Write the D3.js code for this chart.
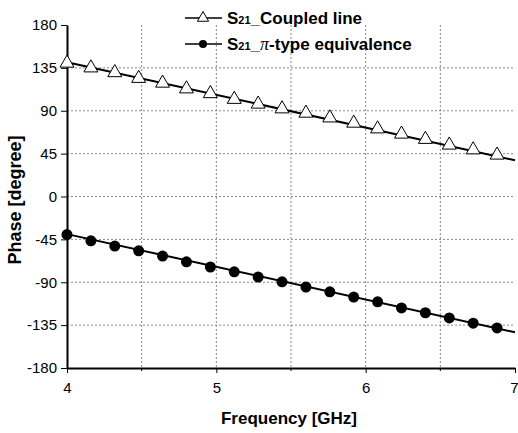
<!DOCTYPE html>
<html>
<head>
<meta charset="utf-8">
<script src="https://cdn.jsdelivr.net/npm/d3@7"></script>
<style>
  html, body { margin: 0; padding: 0; background: #fff; }
  svg { display: block; font-family: Arial, "Liberation Sans", sans-serif; }
</style>
</head>
<body>
<svg id="chart" width="518" height="433"></svg>
<script>
// marker frequencies (GHz)
const freqs = [4.00, 4.16, 4.32, 4.48, 4.64, 4.80, 4.96, 5.12, 5.28, 5.44,
               5.60, 5.76, 5.92, 6.08, 6.24, 6.40, 6.56, 6.72, 6.88];
// S21 phase, coupled line (deg)
const coupled = [140, 135, 130, 124, 119, 113, 108, 102, 97, 92,
                 87.5, 82.5, 77, 71, 65.5, 60, 54, 49, 43.5];
// S21 phase, pi-type equivalence (deg)
const piType = [-40, -46.5, -52, -57, -62.5, -68.5, -74, -79, -84.5, -89.5,
                -95, -100, -105.5, -110.5, -117, -122, -127.5, -133, -138];
// continuous traces
const lineFreqs = [4, 7];
const coupledLine = [141, 38];
const piLine = [-39.5, -142.5];

const xTicks = [4, 5, 6, 7];
const xGrid = [4.5, 5, 5.5, 6, 6.5];
const yTicks = [-180, -135, -90, -45, 0, 45, 90, 135, 180];

const svg = d3.select("#chart");
const margin = { top: 25, right: 3, bottom: 65, left: 67 };
const width = 518, height = 433;
const innerWidth = width - margin.left - margin.right;
const innerHeight = height - margin.top - margin.bottom;

const g = svg.append("g").attr("transform", `translate(${margin.left},${margin.top})`);

const x = d3.scaleLinear().domain([4, 7]).range([0, innerWidth]);
const y = d3.scaleLinear().domain([-180, 180]).range([innerHeight, 0]);

// grid
g.append("g").selectAll("line").data(xGrid).join("line")
  .attr("x1", d => x(d)).attr("x2", d => x(d))
  .attr("y1", 0).attr("y2", innerHeight)
  .attr("stroke", "#888").attr("stroke-width", 1).attr("stroke-dasharray", "2,2");
g.append("g").selectAll("line").data(yTicks.filter(d => d > -180 && d < 180)).join("line")
  .attr("x1", 0).attr("x2", innerWidth)
  .attr("y1", d => y(d)).attr("y2", d => y(d))
  .attr("stroke", "#888").attr("stroke-width", 1).attr("stroke-dasharray", "2,2");

// axes
const xAxis = d3.axisBottom(x).tickValues(xTicks).tickFormat(d => String(d)).tickSize(5).tickSizeOuter(0);
const yAxis = d3.axisLeft(y).tickValues(yTicks).tickFormat(d => String(d)).tickSize(6).tickSizeOuter(0);

const xAxisG = g.append("g").attr("transform", `translate(0,${innerHeight})`).call(xAxis);
// minor ticks at half GHz
xAxisG.selectAll(".minor").data([4.5, 5.5, 6.5]).join("line")
  .attr("class", "minor")
  .attr("x1", d => x(d)).attr("x2", d => x(d))
  .attr("y1", 0).attr("y2", 3).attr("stroke", "#000");
const yAxisG = g.append("g").call(yAxis);

[xAxisG, yAxisG].forEach(a => {
  a.select(".domain").attr("stroke", "#000").attr("stroke-width", 2);
  a.selectAll(".tick line").attr("stroke", "#000").attr("stroke-width", 1);
  a.selectAll(".tick text").attr("fill", "#000").style("font-size", "15px")
    .style("font-family", "Arial, 'Liberation Sans', sans-serif");
});
xAxisG.selectAll(".tick text").attr("dy", "1.1em");
// keep the last label inside the frame
xAxisG.selectAll(".tick text").filter(d => d === 7).attr("text-anchor", "end").attr("x", 3);
yAxisG.selectAll(".tick text").attr("x", -10);

// axis titles
svg.append("text")
  .attr("x", margin.left + innerWidth / 2 - 2).attr("y", 424)
  .attr("text-anchor", "middle")
  .style("font-size", "17px").style("font-weight", "bold")
  .text("Frequency [GHz]");
svg.append("text")
  .attr("transform", "translate(21,200) rotate(-90)")
  .attr("text-anchor", "middle")
  .style("font-size", "18px").style("font-weight", "bold")
  .text("Phase [degree]");

// traces
const line = d3.line().x(d => x(d[0])).y(d => y(d[1]));
const plot = g.append("g");
plot.append("path")
  .attr("d", line(lineFreqs.map((f, i) => [f, coupledLine[i]])))
  .attr("fill", "none").attr("stroke", "#000").attr("stroke-width", 2);
plot.append("path")
  .attr("d", line(lineFreqs.map((f, i) => [f, piLine[i]])))
  .attr("fill", "none").attr("stroke", "#000").attr("stroke-width", 2);

const tri = d3.symbol().type(d3.symbolTriangle).size(85);
plot.append("g").selectAll("path").data(freqs.map((f, i) => [f, coupled[i]])).join("path")
  .attr("d", tri)
  .attr("transform", d => `translate(${x(d[0])},${y(d[1])})`)
  .attr("fill", "#fff").attr("stroke", "#000").attr("stroke-width", 1);
plot.append("g").selectAll("circle").data(freqs.map((f, i) => [f, piType[i]])).join("circle")
  .attr("cx", d => x(d[0])).attr("cy", d => y(d[1])).attr("r", 5.5)
  .attr("fill", "#000");

// legend
const legend = svg.append("g");
const rows = [
  { y: 18, marker: "tri", label: "_Coupled line" },
  { y: 44, marker: "dot", label: "-type equivalence" }
];
rows.forEach(r => {
  legend.append("line").attr("x1", 185).attr("x2", 222).attr("y1", r.y).attr("y2", r.y)
    .attr("stroke", "#000").attr("stroke-width", 1.5);
  if (r.marker === "tri") {
    legend.append("path").attr("d", d3.symbol().type(d3.symbolTriangle).size(55))
      .attr("transform", `translate(203,${r.y})`)
      .attr("fill", "#fff").attr("stroke", "#000");
  } else {
    legend.append("circle").attr("cx", 203).attr("cy", r.y).attr("r", 4).attr("fill", "#000");
  }
  const t = legend.append("text").attr("x", 227).attr("y", r.y + 6)
    .style("font-size", "17px").style("font-weight", "bold");
  t.append("tspan").text("S");
  t.append("tspan").style("font-size", "11px").text("21");
  if (r.marker === "tri") {
    t.append("tspan").text(r.label);
  } else {
    t.append("tspan").text("_");
    t.append("tspan").style("font-family", "'Liberation Serif', serif").style("font-style", "italic")
      .style("font-weight", "normal").style("font-size", "18px").text("\u03c0");
    t.append("tspan").text(r.label);
  }
});
</script>
</body>
</html>
